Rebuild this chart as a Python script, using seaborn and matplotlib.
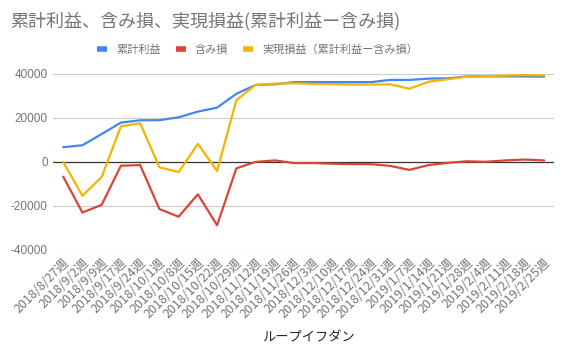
import pandas as pd
import seaborn as sns
import matplotlib.pyplot as plt
import matplotlib.transforms as mtransforms
from matplotlib.lines import Line2D

# 週ラベル
weeks = [
    "2018/8/27週", "2018/9/2週", "2018/9/9週", "2018/9/17週", "2018/9/24週",
    "2018/10/1週", "2018/10/8週", "2018/10/15週", "2018/10/22週", "2018/10/29週",
    "2018/11/12週", "2018/11/19週", "2018/11/26週", "2018/12/3週", "2018/12/10週",
    "2018/12/17週", "2018/12/24週", "2018/12/31週", "2019/1/7週", "2019/1/14週",
    "2019/1/21週", "2019/1/28週", "2019/2/4週", "2019/2/11週", "2019/2/18週",
    "2019/2/25週",
]

# 累計利益
cumulative = [
    6700, 7600, 12700, 17900, 18950, 19000, 20300, 22900, 24700, 31000,
    35000, 35300, 36300, 36300, 36300, 36300, 36300, 37300, 37300, 37900,
    38000, 38900, 38900, 38900, 38900, 38800,
]

# 含み損
unrealized = [
    -6700, -23000, -19500, -1700, -1400, -21400, -24900, -14700, -28800, -2900,
    0, 700, -500, -500, -800, -1000, -1000, -1800, -3600, -1400,
    -400, 300, 100, 700, 1100, 700,
]

# 実現損益（累計利益ー含み損）
realized = [
    0, -15400, -6800, 16200, 17600, -2400, -4600, 8200, -4100, 28100,
    35000, 35600, 35800, 35500, 35400, 35200, 35200, 35300, 33300, 36500,
    37600, 38800, 39000, 39300, 39500, 39400,
]

series_names = ["累計利益", "含み損", "実現損益（累計利益ー含み損）"]
colors = ["#4285F4", "#DB4437", "#F4B400"]
gray = "#757575"

df = pd.DataFrame({
    "idx": list(range(len(weeks))) * 3,
    "value": cumulative + unrealized + realized,
    "series": [series_names[0]] * len(weeks) + [series_names[1]] * len(weeks) + [series_names[2]] * len(weeks),
})

sns.set_theme(style="white")
plt.rcParams["font.family"] = ["Noto Sans CJK JP", "DejaVu Sans"]

fig = plt.figure(figsize=(5.66, 3.54), dpi=100)
ax = fig.add_axes([0.094, 0.294, 0.885, 0.497])

# 罫線
for v in [-40000, -20000, 20000, 40000]:
    ax.axhline(v, color="#cccccc", lw=0.8, zorder=0)
ax.axhline(0, color="#333333", lw=0.9, zorder=1)

sns.lineplot(data=df, x="idx", y="value", hue="series", hue_order=series_names,
             palette=colors, linewidth=1.6, sort=False, legend=False, ax=ax, zorder=2)

ax.set_xlim(-0.52, len(weeks) - 0.48)
ax.set_ylim(-40000, 40000)
ax.set_yticks([-40000, -20000, 0, 20000, 40000])
ax.set_yticklabels(["-40000", "-20000", "0", "20000", "40000"], fontsize=8.5, color=gray,
                   family=["Liberation Sans", "DejaVu Sans"])
ax.set_xticks(range(len(weeks)))
ax.set_xticklabels(weeks, rotation=45, ha="right", va="center", rotation_mode="anchor",
                   fontsize=9, color=gray)
ax.tick_params(axis="y", length=0, pad=4)
ax.tick_params(axis="x", length=0, pad=8)
shift = mtransforms.ScaledTranslation(4 / 100, 0, fig.dpi_scale_trans)
for lab in ax.get_xticklabels():
    lab.set_transform(lab.get_transform() + shift)
for s in ax.spines.values():
    s.set_visible(False)

ax.set_xlabel("ループイフダン", fontsize=9.5, color="#222222", va="center")
ax.xaxis.set_label_coords(0.51, -0.5)
ax.set_ylabel("")

fig.text(0.018, 0.94, "累計利益、含み損、実現損益(累計利益ー含み損)", fontsize=13, color=gray,
         va="center", ha="left")

handles = [Line2D([0], [0], color=c, lw=4, solid_capstyle="butt") for c in colors]
fig.legend(handles, series_names, loc="center", bbox_to_anchor=(0.455, 0.859), ncol=3,
           frameon=False, fontsize=8, handlelength=0.9, handletextpad=0.8, columnspacing=1.35,
           labelcolor=gray)

fig.savefig("out.png", dpi=100)
